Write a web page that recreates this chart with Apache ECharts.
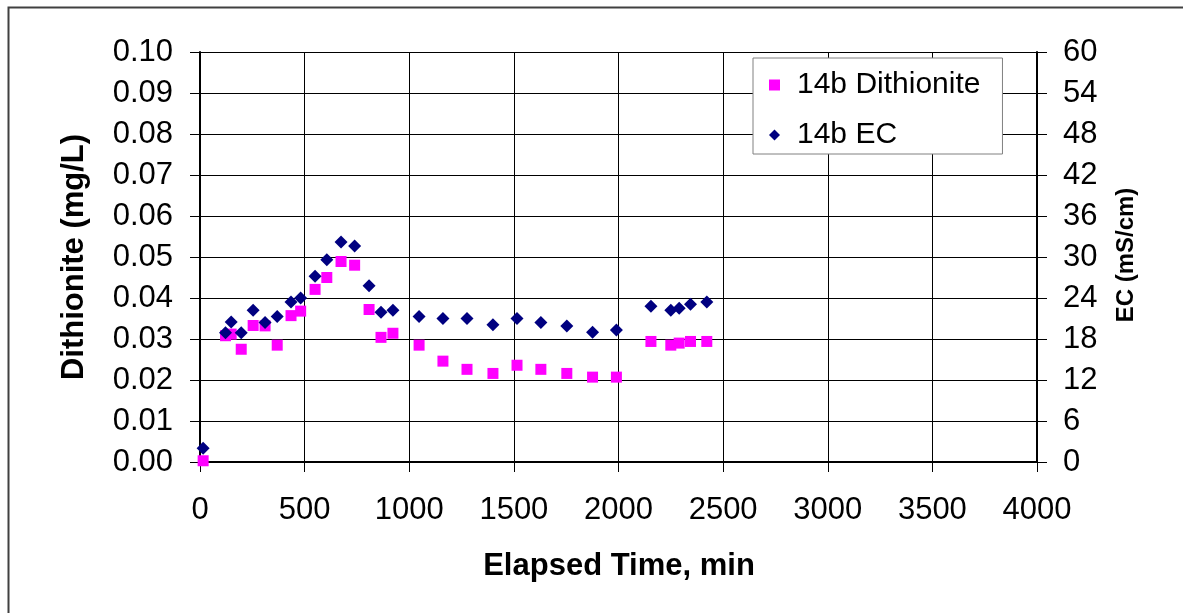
<!DOCTYPE html>
<html>
<head>
<meta charset="utf-8">
<script src="https://cdn.jsdelivr.net/npm/echarts@6/dist/echarts.min.js"></script>
<style>
html,body{margin:0;padding:0;background:#fff;}
#chart{width:1183px;height:613px;}
</style>
</head>
<body>
<div id="chart"></div>
<script>
// Elapsed time (min)
var timeMin = [15, 122, 149, 197, 254, 311, 369, 435, 481, 550, 606, 674, 739, 808, 865, 922, 1047, 1161, 1276, 1400, 1515, 1629, 1753, 1876, 1990, 2155, 2250, 2290, 2344, 2422];
// 14b Dithionite (mg/L)
var dithionite = [0.0003, 0.0308, 0.0312, 0.0275, 0.0333, 0.0332, 0.0285, 0.0357, 0.0368, 0.0421, 0.0450, 0.0489, 0.0480, 0.0372, 0.0304, 0.0314, 0.0285, 0.0246, 0.0226, 0.0216, 0.0236, 0.0226, 0.0216, 0.0207, 0.0207, 0.0294, 0.0285, 0.0290, 0.0294, 0.0294];
// 14b EC (mS/cm)
var ec = [2.0, 18.9, 20.5, 18.9, 22.2, 20.4, 21.3, 23.4, 24.0, 27.2, 29.6, 32.2, 31.6, 25.8, 21.9, 22.2, 21.3, 21.0, 21.0, 20.1, 21.0, 20.4, 19.9, 19.0, 19.3, 22.8, 22.2, 22.5, 23.1, 23.4];
var seriesNames = ['14b Dithionite', '14b EC'];
var xTitle = 'Elapsed Time, min';
var yLeftTitle = 'Dithionite (mg/L)';
var yRightTitle = 'EC (mS/cm)';

var FONT = "'Liberation Sans', Arial, sans-serif";
function pairs(xs, ys){ return xs.map(function(x,i){ return [x, ys[i]]; }); }

var chart = echarts.init(document.getElementById('chart'), null, {renderer:'canvas'});
chart.setOption({
  animation:false,
  backgroundColor:'#fff',
  textStyle:{fontFamily:FONT},
  grid:{left:200, right:146, top:52, bottom:151, show:false},
  legend:{
    orient:'vertical',
    left:753, top:58,
    padding:[12, 22, 4, 16],
    itemGap:20,
    itemWidth:11, itemHeight:11,
    backgroundColor:'#fff',
    borderColor:'#808080', borderWidth:1,
    textStyle:{fontFamily:FONT, fontSize:30, color:'#000', lineHeight:30, padding:[0,0,0,12]},
    data:[{name:seriesNames[0], icon:'rect'},{name:seriesNames[1], icon:'diamond'}]
  },
  xAxis:{
    type:'value', min:0, max:4000, interval:500,
    axisLine:{show:true, onZero:false, lineStyle:{color:'#000', width:2}},
    axisTick:{show:true, length:10, lineStyle:{color:'#000', width:1}},
    axisLabel:{fontFamily:FONT, fontSize:31, color:'#000', margin:33, formatter:function(v){return String(v);}},
    splitLine:{show:true, lineStyle:{color:'#000', width:1}}
  },
  yAxis:[{
    type:'value', min:0, max:0.1, interval:0.01, position:'left',
    axisLine:{show:true, onZero:false, lineStyle:{color:'#000', width:2}},
    axisTick:{show:true, length:10, lineStyle:{color:'#000', width:1}},
    axisLabel:{fontFamily:FONT, fontSize:31, color:'#000', margin:27, formatter:function(v){return v.toFixed(2);}},
    splitLine:{show:true, lineStyle:{color:'#000', width:1}}
  },{
    type:'value', min:0, max:60, interval:6, position:'right',
    axisLine:{show:true, onZero:false, lineStyle:{color:'#000', width:2}},
    axisTick:{show:true, length:10, lineStyle:{color:'#000', width:1}},
    axisLabel:{fontFamily:FONT, fontSize:31, color:'#000', margin:26},
    splitLine:{show:false}
  }],
  graphic:[
    {type:'rect', left:6, top:5, shape:{x:0,y:0,width:1200,height:620}, style:{fill:null, stroke:'#404040', lineWidth:2}, silent:true, z:-10},
    {type:'text', x:619, y:566, style:{text:xTitle, font:"bold 31px "+FONT, fill:'#000', textAlign:'center', textVerticalAlign:'middle'}},
    {type:'text', x:74, y:257, rotation:Math.PI/2, style:{text:yLeftTitle, font:"bold 31px "+FONT, fill:'#000', textAlign:'center', textVerticalAlign:'middle'}},
    {type:'text', x:1126, y:255, rotation:Math.PI/2, style:{text:yRightTitle, font:"bold 24px "+FONT, fill:'#000', textAlign:'center', textVerticalAlign:'middle'}}
  ],
  series:[{
    name:seriesNames[0], type:'scatter', yAxisIndex:0,
    symbol:'rect', symbolSize:11,
    itemStyle:{color:'#FF00FF', opacity:1},
    data:pairs(timeMin, dithionite), z:3
  },{
    name:seriesNames[1], type:'scatter', yAxisIndex:1,
    symbol:'diamond', symbolSize:13,
    itemStyle:{color:'#000080', opacity:1},
    data:pairs(timeMin, ec), z:4
  }]
});
</script>
</body>
</html>
